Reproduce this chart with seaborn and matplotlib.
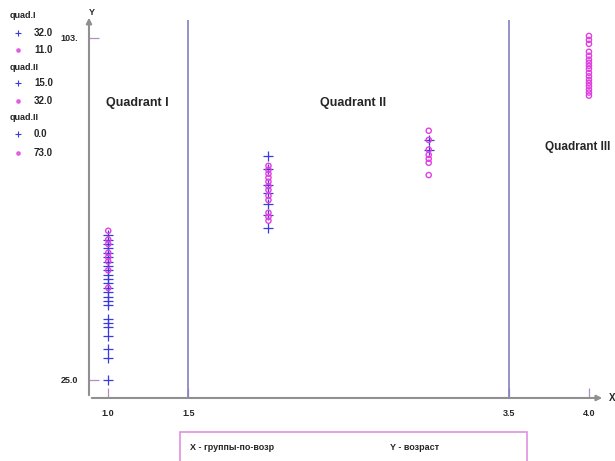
"""Age groups scatter by quadrant."""
import matplotlib
matplotlib.use("Agg")
import matplotlib.pyplot as plt
from matplotlib.lines import Line2D
from matplotlib.patches import Rectangle
import numpy as np
import pandas as pd
import seaborn as sns

# group -> ages (blue pluses / magenta circles)
G1_PLUS = [25, 30, 32, 35, 37, 38, 39, 42, 43, 44, 45, 46, 47, 48, 49, 50, 51, 52, 53, 54, 55, 56, 57, 58]
G1_CIRC = [59, 57, 56, 54, 53, 52, 50, 46]
G2_PLUS = [76, 73, 69.5, 67.6, 65, 62.6, 59.7]
G2_CIRC = [73.8, 72.9, 72, 71.1, 70.2, 69.2, 68.3, 67, 66, 63.1, 62.2, 61.3]
G3_PLUS = [79.7, 77.5]
G3_CIRC = [81.8, 79.7, 77.5, 76.3, 75.4, 74.5, 71.7]
G4_CIRC = [103.4, 102.5, 101.6, 99.8, 98.9, 98, 97.3, 96.6, 95.9, 95, 94.2, 93.4, 92.7, 92, 91.2, 90.5, 89.8]

QUAD_LINES = [1.5, 3.5]
X_TICKS = [1.0, 1.5, 3.5, 4.0]
X_LABELS = ["1.0", "1.5", "3.5", "4.0"]
Y_TICKS = [25, 103]
Y_LABELS = ["25.0", "103."]

LEGEND = [("quad.I", "32.0", "11.0"), ("quad.II", "15.0", "32.0"), ("quad.II", "0.0", "73.0")]

BLUE = "#3a3ae0"
MAGENTA = "#e040e0"
GRAY = "#909090"
LINE = "#8080c0"

plus = pd.DataFrame({
    "x": [1] * len(G1_PLUS) + [2] * len(G2_PLUS) + [3] * len(G3_PLUS),
    "y": G1_PLUS + G2_PLUS + G3_PLUS,
})
circ = pd.DataFrame({
    "x": [1] * len(G1_CIRC) + [2] * len(G2_CIRC) + [3] * len(G3_CIRC) + [4] * len(G4_CIRC),
    "y": G1_CIRC + G2_CIRC + G3_CIRC + G4_CIRC,
})

sns.set_style("white")
plt.rcParams["font.family"] = ["Liberation Sans", "DejaVu Sans"]

fig = plt.figure(figsize=(6.15, 4.61), dpi=100)
ax = fig.add_axes([0.1447, 0.1367, 0.839, 0.831])

sns.scatterplot(data=plus, x="x", y="y", marker="+", s=60, color=BLUE, linewidth=0.9, ax=ax)
sns.scatterplot(data=circ, x="x", y="y", marker="o", s=14, fc="none", ec=MAGENTA, linewidth=1.0, ax=ax)

ax.set_xlim(0.88, 4.1)
ax.set_ylim(20.9, 108.2)
ax.vlines(QUAD_LINES, 20.9, 107, color=LINE, linewidth=1.2)

for s in ax.spines.values():
    s.set_visible(False)
ax.annotate("", xy=(0, 1.0), xytext=(0, 0), xycoords="axes fraction",
            arrowprops=dict(arrowstyle="-|>", color=GRAY, lw=1.5, mutation_scale=8))
ax.annotate("", xy=(1.0, 0), xytext=(0, 0), xycoords="axes fraction",
            arrowprops=dict(arrowstyle="-|>", color=GRAY, lw=1.5, mutation_scale=8))
ax.text(0.006, 0.995, "Y", transform=ax.transAxes, fontsize=6.5, fontweight="bold", ha="center", va="bottom")
ax.text(1.008, 0, "X", transform=ax.transAxes, fontsize=7, fontweight="bold", ha="left", va="center")

ax.set_xticks(X_TICKS, X_LABELS)
ax.set_yticks(Y_TICKS, Y_LABELS)
ax.tick_params(axis="both", bottom=True, left=True, direction="in", length=7, width=0.9,
               color="#b090c0", labelsize=6.5, pad=8)
for lab in ax.get_xticklabels() + ax.get_yticklabels():
    lab.set_fontweight("bold")
ax.set_xlabel("")
ax.set_ylabel("")

ax.text(1.18, 88.2, "Quadrant I", fontsize=9, fontweight="bold", ha="center", va="center")
ax.text(2.53, 88.2, "Quadrant II", fontsize=9, fontweight="bold", ha="center", va="center")
ax.text(4.135, 78.1, "Quadrant III", fontsize=8.5, fontweight="bold", ha="right", va="center", clip_on=False)

# legend on the left
rows = [15, 33, 50, 67, 83, 101, 118, 134, 153]
i = 0
for title, v1, v2 in LEGEND:
    fig.text(10 / 615, 1 - rows[i] / 461, title, fontsize=6.5, fontweight="bold", va="center")
    for val, mk, col in [(v1, "+", BLUE), (v2, "o", MAGENTA)]:
        i += 1
        yy = 1 - rows[i] / 461
        fig.add_artist(Line2D([18 / 615], [yy], marker=mk, color=col, markersize=5 if mk == "+" else 2.5,
                              markeredgewidth=0.8, linestyle="none", alpha=0.8 if mk == "o" else 1))
        fig.text(34 / 615, yy, val, fontsize=7, fontweight="bold", va="center")
    i += 1

# bottom axis caption box
fig.add_artist(Rectangle((180 / 615, -0.05), 347 / 615, 0.05 + 1 - 432 / 461,
                         transform=fig.transFigure, fill=False, ec="#e090e0", lw=1.2))
fig.text(190 / 615, 1 - 447 / 461, "X - группы-по-возр", fontsize=6.5, fontweight="bold", va="center")
fig.text(390 / 615, 1 - 447 / 461, "Y - возраст", fontsize=6.5, fontweight="bold", va="center")

fig.savefig("out.png", dpi=100)
